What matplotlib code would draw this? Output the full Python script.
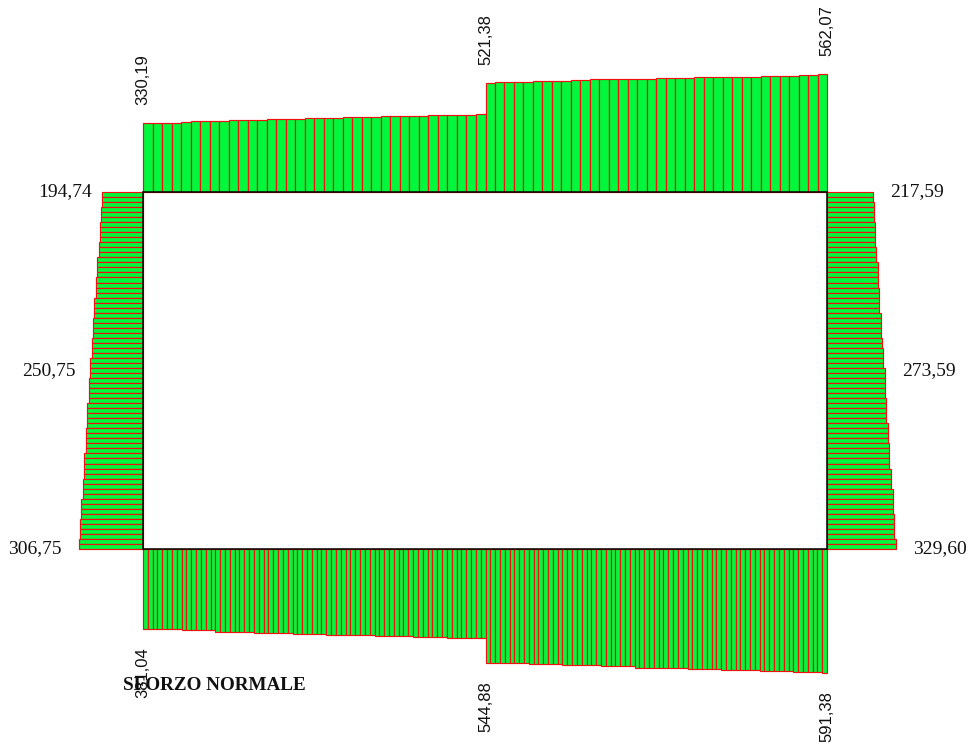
import numpy as np
import matplotlib
matplotlib.use("Agg")
import matplotlib.pyplot as plt
from matplotlib.patches import Rectangle

# ---- normal force values (kN) ----
# top beam, left half and right half (one value per element strip)
top_left_values = [330.19, 330.19, 330.19, 330.19, 334.9, 336.5, 336.5, 336.5, 336.5,
                   341.2, 341.2, 341.2, 344.4, 346.0, 347.5, 347.5, 347.5, 352.3,
                   352.3, 352.3, 352.3, 355.5, 355.5, 355.5, 355.5, 360.2, 360.2,
                   360.2, 360.2, 360.2, 364.9, 364.9, 364.9, 364.9, 368.1, 371.2]
top_right_values = [521.38, 523.0, 526.1, 526.1, 526.1, 529.2, 529.2, 530.8, 530.8,
                    534.0, 534.0, 537.1, 537.1, 537.1, 540.3, 540.3, 540.3, 540.3,
                    543.4, 543.4, 543.4, 543.4, 546.6, 546.6, 548.2, 549.8, 549.8,
                    549.8, 549.8, 554.5, 554.5, 554.5, 554.5, 559.2, 559.2, 562.07]

# bottom beam (stepped values with number of strips per step)
bottom_left_steps = [381.04, 387.0, 394.0, 398.5, 403.0, 408.0, 413.0, 417.5, 422.5]
bottom_left_counts = [8, 7, 8, 8, 7, 10, 8, 7, 8]
bottom_right_steps = [544.88, 549.5, 554.5, 559.5, 565.5, 570.5, 575.5, 580.5, 586.5, 591.38]
bottom_right_counts = [9, 7, 8, 7, 11, 7, 8, 7, 6, 1]

# columns, from top to bottom
left_col_steps = [194.74, 200.0, 204.8, 210.5, 216.7, 225.0, 231.0, 238.0, 243.0,
                  250.75, 257.0, 265.0, 273.0, 281.0, 287.0, 295.0, 300.0, 306.75]
left_col_counts = [3, 3, 4, 3, 4, 4, 4, 4, 4, 4, 5, 5, 5, 5, 4, 4, 4, 2]
right_col_steps = [217.59, 223.0, 228.6, 235.0, 244.0, 249.0, 255.5, 263.5, 268.0,
                   276.0, 282.5, 290.5, 297.0, 305.0, 313.0, 319.0, 329.60]
right_col_counts = [2, 4, 5, 3, 5, 5, 5, 2, 4, 6, 5, 4, 5, 4, 5, 5, 2]

# labelled values
top_labels = [330.19, 521.38, 562.07]
bottom_labels = [381.04, 544.88, 591.38]
left_labels = [194.74, 250.75, 306.75]
right_labels = [217.59, 273.59, 329.60]
title = "SFORZO NORMALE"

# ---- drawing geometry ----
X0, X1 = 143.0, 827.0          # column axes
Y_TOP, Y_BOT = 192.0, 549.0    # beam axes
X_MID = 485.5                  # beam joint where the force jumps
SCALE = 0.21                   # drawing units per kN

FILL = "#00f83c"
EDGE = "#f01010"
LW = 0.85

fig = plt.figure(figsize=(9.74, 7.49), dpi=100)
ax = fig.add_axes([0, 0, 1, 1])
ax.set_xlim(0, 974)
ax.set_ylim(749, 0)
ax.axis("off")


def strips(x_start, x_end, n):
    w = (x_end - x_start) / n
    return x_start + w * np.arange(n), w


# top beam (diagram drawn above the beam)
for vals, xa, xb in [(top_left_values, X0, X_MID), (top_right_values, X_MID, X1)]:
    v = np.asarray(vals)
    xs, w = strips(xa, xb, len(v))
    ax.bar(xs, -v * SCALE, width=w, bottom=Y_TOP, align="edge",
           color=FILL, edgecolor=EDGE, linewidth=LW, zorder=2)

# bottom beam (diagram drawn below the beam)
for steps, counts, xa, xb in [(bottom_left_steps, bottom_left_counts, X0, X_MID),
                              (bottom_right_steps, bottom_right_counts, X_MID, X1)]:
    v = np.repeat(steps, counts)
    xs, w = strips(xa, xb, len(v))
    ax.bar(xs, v * SCALE, width=w, bottom=Y_BOT, align="edge",
           color=FILL, edgecolor=EDGE, linewidth=LW, zorder=2)

# columns
lv = np.repeat(left_col_steps, left_col_counts)
ys, h = strips(Y_TOP, Y_BOT, len(lv))
ax.barh(ys, lv * SCALE, height=h, left=X0 - lv * SCALE, align="edge",
        color=FILL, edgecolor=EDGE, linewidth=LW, zorder=2)

rv = np.repeat(right_col_steps, right_col_counts)
ys, h = strips(Y_TOP, Y_BOT, len(rv))
ax.barh(ys, rv * SCALE, height=h, left=X1, align="edge",
        color=FILL, edgecolor=EDGE, linewidth=LW, zorder=2)

# frame
ax.add_patch(Rectangle((X0, Y_TOP), X1 - X0, Y_BOT - Y_TOP, fill=False,
                       edgecolor="black", linewidth=1.1, zorder=3))


def fmt(v):
    return f"{v:.2f}".replace(".", ",")


sans = dict(family=["Liberation Sans", "DejaVu Sans"], fontsize=12, color="#111111")
serif = dict(family=["Liberation Serif", "DejaVu Serif"], fontsize=14, color="#111111")

# beam labels, rotated
for v, x in zip(top_labels, [X0, X_MID, X1]):
    ax.text(x, Y_TOP - v * SCALE - 18, fmt(v), rotation=90, ha="center",
            va="bottom", zorder=4, **sans)
for v, x in zip(bottom_labels, [X0, X_MID, X1]):
    ax.text(x, Y_BOT + v * SCALE + 18, fmt(v), rotation=90, ha="center",
            va="top", zorder=4, **sans)

# column labels
ymid = 0.5 * (Y_TOP + Y_BOT)
for v, y, gap in zip(left_labels, [Y_TOP, ymid, Y_BOT], [10, 15, 17]):
    ax.text(X0 - v * SCALE - gap, y, fmt(v), ha="right", va="center",
            zorder=4, **serif)
for v, y, gap in zip(right_labels, [Y_TOP, ymid, Y_BOT], [17, 18, 17]):
    ax.text(X1 + v * SCALE + gap, y, fmt(v), ha="left", va="center",
            zorder=4, **serif)

ax.text(123, 685, title, ha="left", va="center", fontweight="bold",
        family=["Liberation Serif", "DejaVu Serif"], fontsize=13.8,
        color="#111111", zorder=5)

fig.savefig("out.png", dpi=100)
